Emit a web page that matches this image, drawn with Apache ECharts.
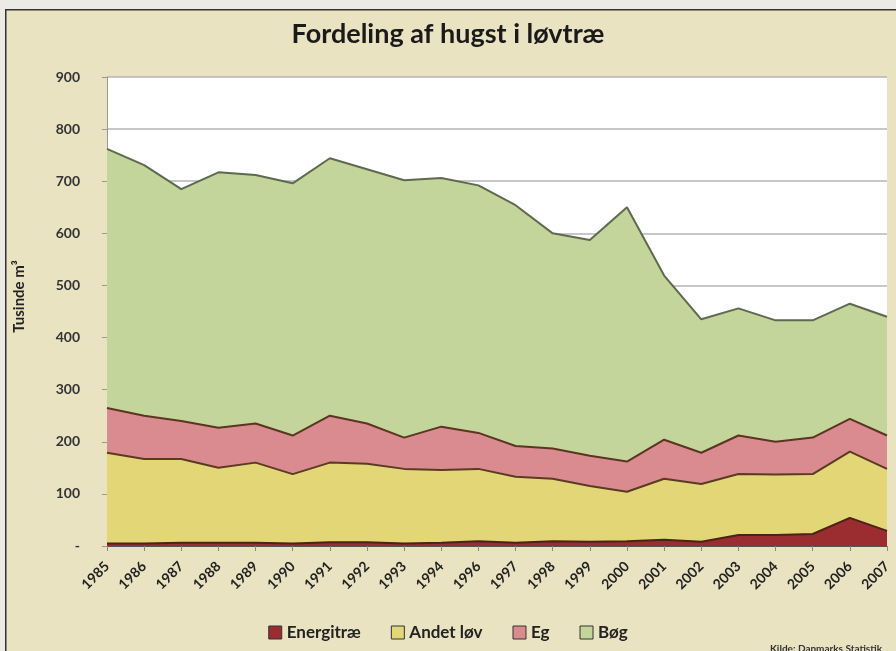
<!DOCTYPE html>
<html>
<head>
<meta charset="utf-8">
<script src="https://cdn.jsdelivr.net/npm/echarts@6/dist/echarts.min.js"></script>
<style>
  html, body { margin: 0; padding: 0; background: #eceae4; }
  #main { width: 896px; height: 651px; }
</style>
</head>
<body>
<div id="main"></div>
<script>
// years (1995 missing in the source)
const years = ['1985', '1986', '1987', '1988', '1989', '1990', '1991', '1992', '1993', '1994',
  '1996', '1997', '1998', '1999', '2000', '2001', '2002', '2003', '2004', '2005', '2006', '2007']

// tusinde m3 per type
const energitrae = [5, 5, 6, 6, 6, 5, 7, 7, 5, 6, 9, 6, 9, 8, 9, 12, 8, 21, 21, 23, 54, 29]
const andetLoev = [174, 162, 161, 144, 154, 133, 153, 151, 143, 140, 139, 127, 120, 107, 95, 117, 111, 117, 116, 115, 127, 119]
const eg = [86, 83, 73, 77, 75, 74, 90, 77, 60, 83, 69, 59, 58, 58, 58, 75, 60, 74, 63, 70, 63, 64]
const boeg = [497, 481, 445, 490, 477, 484, 494, 488, 494, 477, 475, 462, 413, 414, 488, 315, 256, 244, 233, 225, 221, 228]

const font = 'Lato, "Open Sans", sans-serif'
const chart = echarts.init(document.getElementById('main'))

function areaSeries(name, data, fill, line) {
  return {
    name,
    type: 'line',
    stack: 'total',
    data,
    symbol: 'none',
    areaStyle: { color: fill, opacity: 1 },
    lineStyle: { color: line, width: 2 },
    itemStyle: { color: fill, borderColor: '#444', borderWidth: 1 },
  }
}

chart.setOption({
  backgroundColor: '#eceae4',
  animation: false,
  graphic: [
    {
      type: 'rect',
      left: 5, top: 9, z: -10,
      shape: { width: 900, height: 660 },
      style: { fill: '#e9e3c2', stroke: '#333', lineWidth: 1.5 },
    },
    {
      type: 'text',
      left: 770, top: 644,
      style: { text: 'Kilde: Danmarks Statistik', fill: '#333', font: 'bold 10px ' + font },
    },
  ],
  title: {
    text: 'Fordeling af hugst i løvtræ',
    left: 'center',
    top: 16,
    textStyle: { fontFamily: font, fontSize: 27, fontWeight: 'bold', color: '#1a1a1a' },
  },
  legend: {
    bottom: 5,
    left: 'center',
    itemWidth: 13,
    itemHeight: 13,
    itemGap: 30,
    icon: 'rect',
    data: ['Energitræ', 'Andet løv', 'Eg', 'Bøg'],
    itemStyle: { borderColor: '#333', borderWidth: 1 },
    textStyle: { fontFamily: font, fontSize: 17, fontWeight: 'bold', color: '#222' },
  },
  grid: { left: 107, right: 9, top: 77, bottom: 105, backgroundColor: '#fff', show: true, borderWidth: 0 },
  xAxis: {
    type: 'category',
    data: years,
    boundaryGap: false,
    axisLine: { lineStyle: { color: '#555', width: 1 } },
    axisTick: { show: true, alignWithLabel: true, length: 5, lineStyle: { color: '#888' } },
    axisLabel: {
      rotate: 45,
      interval: 0,
      margin: 18,
      fontFamily: font,
      fontSize: 14,
      fontWeight: 'bold',
      color: '#222',
    },
  },
  yAxis: {
    type: 'value',
    min: 0,
    max: 900,
    interval: 100,
    name: 'Tusinde m³',
    nameLocation: 'middle',
    nameGap: 80,
    nameTextStyle: { fontFamily: font, fontSize: 15, fontWeight: 'bold', color: '#222', padding: [0, 0, 0, 30] },
    axisLine: { show: true, lineStyle: { color: '#999' } },
    axisTick: { show: true, inside: false, length: 5, lineStyle: { color: '#999' } },
    splitLine: { lineStyle: { color: '#b5b5b5', width: 1.5 } },
    axisLabel: {
      margin: 27,
      fontFamily: font,
      fontSize: 14,
      fontWeight: 'bold',
      color: '#333',
      formatter: v => (v === 0 ? '-' : String(v)),
    },
  },
  series: [
    areaSeries('Energitræ', energitrae, '#9b2c2f', '#4a2316'),
    areaSeries('Andet løv', andetLoev, '#e2d677', '#5b3a22'),
    areaSeries('Eg', eg, '#da8b90', '#5b3522'),
    areaSeries('Bøg', boeg, '#c3d59a', '#5d6a50'),
  ],
})
</script>
</body>
</html>
